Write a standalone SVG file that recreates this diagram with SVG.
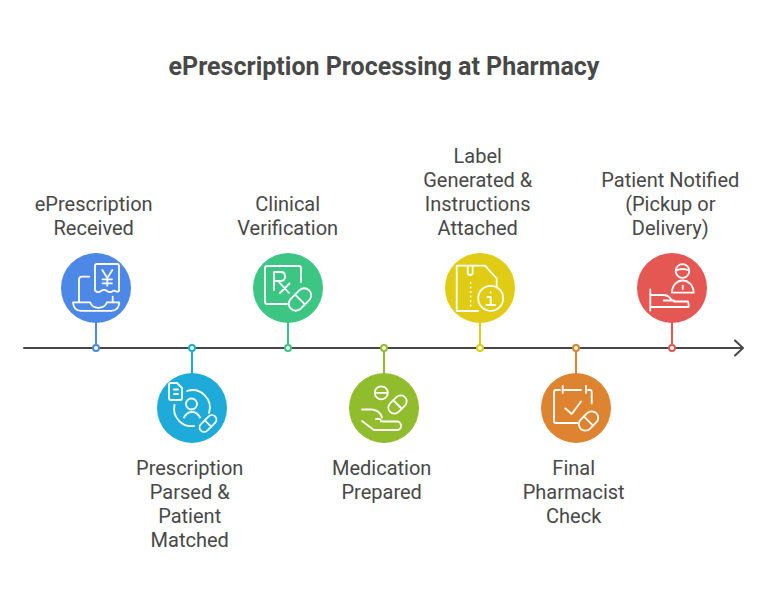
<svg xmlns="http://www.w3.org/2000/svg" width="768" height="600" viewBox="0 0 768 600">
<style>
text{font-family:Roboto,"Liberation Sans",sans-serif;fill:#484848;text-anchor:middle}
.t{font-size:25px;font-weight:700}
.l{font-size:20px}
.i{fill:none;stroke:#fff;stroke-width:1.800;stroke-linecap:round;stroke-linejoin:round}
.d{fill:#fff;stroke-width:2}
</style>
<rect width="768" height="600" fill="#fff"/>
<text class="t" x="384" y="75">ePrescription Processing at Pharmacy</text>
<g id="connectors" fill="none" stroke-width="2">
<path d="M24 348H743M735 340.500L743 348L735 355.500" stroke="#484848" stroke-linecap="round" stroke-linejoin="round"/>
<path d="M96 323V348" stroke="#4e88e7"/>
<path d="M192 348V373" stroke="#1eabda"/>
<path d="M288 323V348" stroke="#3cc583"/>
<path d="M384 348V373" stroke="#90bc2e"/>
<path d="M480 323V348" stroke="#e0cb15"/>
<path d="M576 348V373" stroke="#de8431"/>
<path d="M672 323V348" stroke="#e55753"/>
<circle class="d" cx="96" cy="348" r="3" stroke="#4e88e7"/>
<circle class="d" cx="192" cy="348" r="3" stroke="#1eabda"/>
<circle class="d" cx="288" cy="348" r="3" stroke="#3cc583"/>
<circle class="d" cx="384" cy="348" r="3" stroke="#90bc2e"/>
<circle class="d" cx="480" cy="348" r="3" stroke="#e0cb15"/>
<circle class="d" cx="576" cy="348" r="3" stroke="#de8431"/>
<circle class="d" cx="672" cy="348" r="3" stroke="#e55753"/>
</g>
<g id="node1">
<circle cx="96" cy="288" r="35" fill="#4e88e7"/>
<path class="i" d="M95 290.500V266q0-2 2-2H117q2 0 2 2V291c-2 2.500-4 -1.500-6 0s-4 1.500-6 0-4-1.500-6 0-4 1.500-6-.5"/>
<path class="i" d="M102.300 270L107.300 278V285.700M112.300 270L107.300 278M102.500 279.300H112M102.500 283.300H112"/>
<path class="i" d="M89.300 276.700H82q-3 0-3 3V302M112.700 296.700V302.300"/>
<path class="i" d="M73 302.300H90q2 5.500 8.500 5.500t8.500-5.500H119.300q-.5 8.500-8 8.500H81q-7.500 0-8-8.500Z"/>
<text class="l" x="93.700" y="211">ePrescription</text>
<text class="l" x="93.700" y="235">Received</text>
</g>
<g id="node2">
<circle cx="192" cy="408" r="35" fill="#1eabda"/>
<path class="i" d="M171 383H177L182 388V398q0 2-2 2H171q-2 0-2-2V385q0-2 2-2ZM174 389.500H178M174 394H178"/>
<circle class="i" cx="191.500" cy="404" r="5.500"/>
<path class="i" d="M184 417.500q3-5.500 8-5.500t8 5.500"/>
<path class="i" d="M187 391A17.500 17.500 0 0 1 209 413M174.500 405A17.500 17.500 0 0 0 194 426"/>
<g transform="rotate(-45 208 423.500)"><rect class="i" x="198" y="419" width="20" height="9" rx="4.500"/><path class="i" d="M208 419V428"/></g>
<text class="l" x="189.700" y="475">Prescription</text>
<text class="l" x="189.700" y="499">Parsed &amp;</text>
<text class="l" x="189.700" y="523">Patient</text>
<text class="l" x="189.700" y="547">Matched</text>
</g>
<g id="node3">
<circle cx="288" cy="288" r="35" fill="#3cc583"/>
<path class="i" d="M301 282V268q0-2-2-2H267q-2 0-2 2V302q0 2 2 2H287"/>
<path class="i" d="M274 290V272H281q4 0 4 4.500T281 281H274M278 281L289 293M289.500 283.500L280 293"/>
<g transform="rotate(-45 300 299.500)"><rect class="i" x="287" y="292.500" width="26" height="14" rx="7"/><path class="i" d="M300 292.500V306.500"/></g>
<text class="l" x="287.700" y="211">Clinical</text>
<text class="l" x="287.700" y="235">Verification</text>
</g>
<g id="node4">
<circle cx="384" cy="408" r="35" fill="#90bc2e"/>
<circle class="i" cx="381.300" cy="392.800" r="6.500"/>
<path class="i" d="M375 392.800H387.500"/>
<g transform="rotate(-45 397.500 404.500)"><rect class="i" x="387" y="398.500" width="21" height="12" rx="6"/><path class="i" d="M397.500 398.500V410.500"/></g>
<path class="i" d="M362 409.500H372q8 1 10 8M376 419H380q2 2.500 1 2.500H398q3 1 3 4.500t-3.500 4H374L362 421"/>
<text class="l" x="381.700" y="475">Medication</text>
<text class="l" x="381.700" y="499">Prepared</text>
</g>
<g id="node5">
<circle cx="480" cy="288" r="35" fill="#e0cb15"/>
<path class="i" d="M496.700 286.500V278.500L485 265.700H456.700V311H478M467.700 266V272.500q0 2.500 2.500 2.500t2.500-2.500V266"/>
<path class="i" stroke-dasharray="0 4.500" d="M470.700 283V306"/>
<circle class="i" cx="490.700" cy="298.300" r="12.500"/>
<path class="i" d="M487.500 297H490.700V305M486.500 305H495M490.700 292.500V292.700"/>
<text class="l" x="477.700" y="163">Label</text>
<text class="l" x="477.700" y="187">Generated &amp;</text>
<text class="l" x="477.700" y="211">Instructions</text>
<text class="l" x="477.700" y="235">Attached</text>
</g>
<g id="node6">
<circle cx="576" cy="408" r="35" fill="#de8431"/>
<path class="i" d="M560 390H556q-2 0-2 2V421q0 2 2 2H577.500M564.500 390H581M588 390H589.700q2 0 2 2V403.500M562.700 386V393M586 386V393"/>
<path class="i" d="M565.300 408.300L571.700 414L581 401.500"/>
<g transform="rotate(-45 588.500 421)"><rect class="i" x="577.500" y="414.500" width="22" height="13" rx="6.500"/><path class="i" d="M588.500 414.500V427.500"/></g>
<text class="l" x="573.700" y="475">Final</text>
<text class="l" x="573.700" y="499">Pharmacist</text>
<text class="l" x="573.700" y="523">Check</text>
</g>
<g id="node7">
<circle cx="672" cy="288" r="35" fill="#e55753"/>
<circle class="i" cx="682.500" cy="271" r="6.800"/>
<path class="i" d="M675.800 270.500q7-3 13 0"/>
<path class="i" d="M672 292.700H693.700C693.500 285 688 280.500 682.700 280.500S672 285 672 292.700ZM682.700 285.700V289"/>
<path class="i" d="M650.300 289.500V310.500M650.300 295H663q5 0 7 3t4 3.500H688q1 3 .7 5.500H650.300M663.700 300.500H674"/>
<text class="l" x="670.300" y="187">Patient Notified</text>
<text class="l" x="670.300" y="211">(Pickup or</text>
<text class="l" x="670.300" y="235">Delivery)</text>
</g>
</svg>
